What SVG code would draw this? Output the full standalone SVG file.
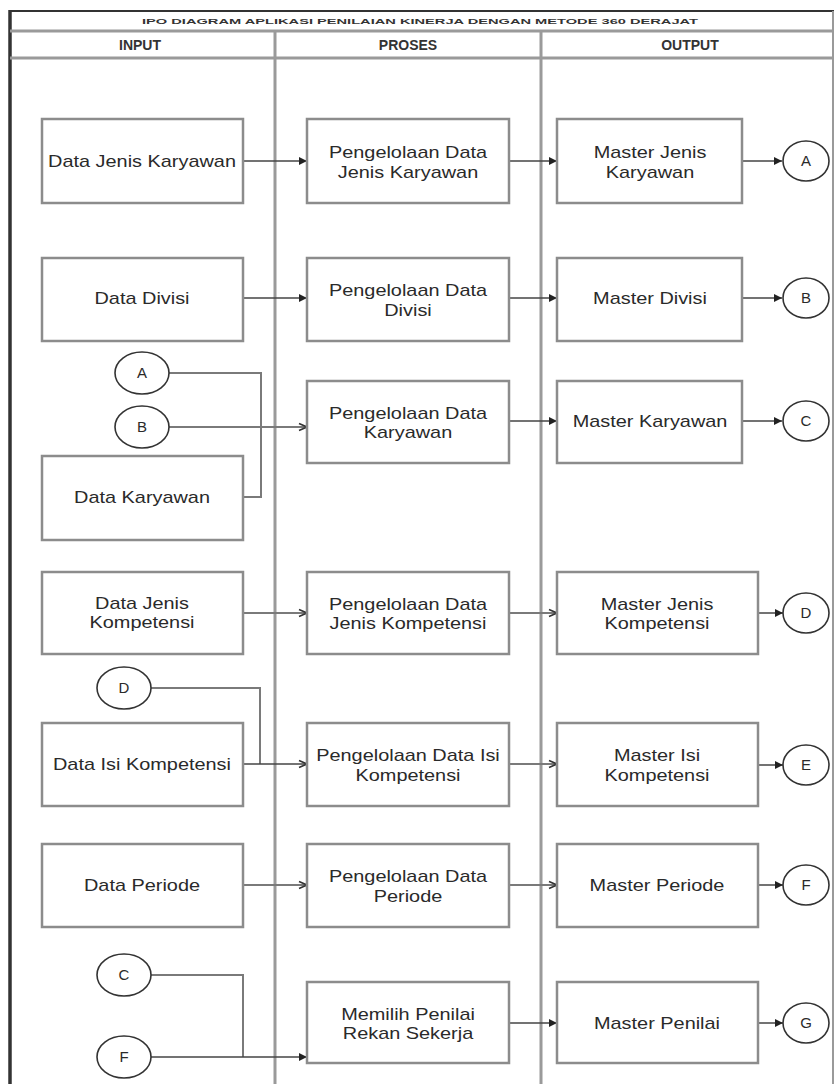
<svg xmlns="http://www.w3.org/2000/svg" width="837" height="1084" viewBox="0 0 837 1084">
  <style>
    .box { fill: #ffffff; stroke: #8c8c8c; stroke-width: 2.5; }
    .term { fill: #ffffff; stroke: #333333; stroke-width: 1.6; }
    .lbl { font-family: "Liberation Sans", Arial, sans-serif; font-size: 17px; fill: #2a2a2a; text-anchor: middle; }
    .tl { font-family: "Liberation Sans", Arial, sans-serif; font-size: 15px; fill: #2a2a2a; text-anchor: middle; }
    .hdr { font-family: "Liberation Sans", Arial, sans-serif; font-size: 14px; font-weight: bold; fill: #333333; text-anchor: middle; }
    .ttl { font-family: "Liberation Sans", Arial, sans-serif; font-size: 8px; font-weight: bold; fill: #333333; text-anchor: middle; }
    .wire { fill: none; stroke: #444444; stroke-width: 1.5; }
    .wire2 { fill: none; stroke: #7a7a7a; stroke-width: 2; }
    .lane { stroke: #9a9a9a; stroke-width: 3; }
  </style>
  <defs>
    <marker id="ah" markerWidth="10" markerHeight="10" refX="9" refY="5" orient="auto" markerUnits="userSpaceOnUse">
      <path d="M1,1 L9,5 L1,9 Z" fill="#222222"/>
    </marker>
    <marker id="ao" markerWidth="10" markerHeight="10" refX="9" refY="5" orient="auto" markerUnits="userSpaceOnUse">
      <path d="M1,1.5 L9,5 L1,8.5" fill="none" stroke="#333333" stroke-width="1.6"/>
    </marker>
  </defs>

  <rect width="837" height="1084" fill="#ffffff"/>

  <!-- frame, title row, header row and swimlanes -->
  <g id="frame">
    <line x1="10" y1="11" x2="834" y2="11" stroke="#333333" stroke-width="2"/>
    <line x1="10" y1="10" x2="10" y2="1084" stroke="#333333" stroke-width="3.5"/>
    <line x1="833" y1="11" x2="833" y2="1084" stroke="#9a9a9a" stroke-width="2"/>
    <line x1="10" y1="31" x2="834" y2="31" class="lane"/>
    <line x1="10" y1="58" x2="834" y2="58" class="lane"/>
    <line x1="275" y1="31" x2="275" y2="1084" class="lane"/>
    <line x1="541" y1="31" x2="541" y2="1084" class="lane"/>
    <text class="ttl" x="420" y="24" textLength="556" lengthAdjust="spacingAndGlyphs">IPO DIAGRAM APLIKASI PENILAIAN KINERJA DENGAN METODE 360 DERAJAT</text>
    <text class="hdr" x="140" y="50">INPUT</text>
    <text class="hdr" x="408" y="50">PROSES</text>
    <text class="hdr" x="690" y="50">OUTPUT</text>
  </g>

  <!-- connectors -->
  <g id="connectors">
    <line class="wire" x1="243" y1="161" x2="307" y2="161" marker-end="url(#ah)"/>
    <line class="wire" x1="509" y1="161" x2="557" y2="161" marker-end="url(#ah)"/>
    <line class="wire" x1="742" y1="161" x2="782" y2="161" marker-end="url(#ah)"/>

    <line class="wire" x1="243" y1="298" x2="307" y2="298" marker-end="url(#ah)"/>
    <line class="wire" x1="509" y1="298" x2="557" y2="298" marker-end="url(#ah)"/>
    <line class="wire" x1="742" y1="298" x2="782" y2="298" marker-end="url(#ah)"/>

    <polyline class="wire2" points="169,373 261,373 261,497 243,497"/>
    <line class="wire2" x1="169" y1="427" x2="307" y2="427" marker-end="url(#ao)"/>
    <line class="wire" x1="509" y1="421" x2="557" y2="421" marker-end="url(#ah)"/>
    <line class="wire" x1="742" y1="421" x2="782" y2="421" marker-end="url(#ah)"/>

    <line class="wire2" x1="243" y1="613" x2="307" y2="613" marker-end="url(#ao)"/>
    <line class="wire2" x1="509" y1="613" x2="557" y2="613" marker-end="url(#ao)"/>
    <line class="wire" x1="758" y1="613" x2="783" y2="613" marker-end="url(#ah)"/>

    <polyline class="wire2" points="151,688 260,688 260,764"/>
    <line class="wire" x1="243" y1="764" x2="307" y2="764" marker-end="url(#ao)"/>
    <line class="wire2" x1="509" y1="764" x2="557" y2="764" marker-end="url(#ao)"/>
    <line class="wire" x1="758" y1="765" x2="783" y2="765" marker-end="url(#ah)"/>

    <line class="wire2" x1="243" y1="885" x2="307" y2="885" marker-end="url(#ao)"/>
    <line class="wire2" x1="509" y1="885" x2="557" y2="885" marker-end="url(#ao)"/>
    <line class="wire" x1="758" y1="885" x2="783" y2="885" marker-end="url(#ah)"/>

    <polyline class="wire2" points="151,975 243,975 243,1057"/>
    <line class="wire" x1="151" y1="1057" x2="307" y2="1057" marker-end="url(#ah)"/>
    <line class="wire" x1="509" y1="1023" x2="557" y2="1023" marker-end="url(#ah)"/>
    <line class="wire" x1="758" y1="1023" x2="783" y2="1023" marker-end="url(#ah)"/>
  </g>

  <!-- input column -->
  <g id="in-jenis-karyawan">
    <rect class="box" x="42" y="119" width="201" height="84"/>
    <text class="lbl" transform="translate(142 167) scale(1.17 1)">Data Jenis Karyawan</text>
  </g>
  <g id="in-divisi">
    <rect class="box" x="42" y="258" width="201" height="83"/>
    <text class="lbl" transform="translate(142 304) scale(1.17 1)">Data Divisi</text>
  </g>
  <g id="conn-a-in">
    <ellipse class="term" cx="142" cy="373" rx="27" ry="21"/>
    <text class="tl" x="142" y="378">A</text>
  </g>
  <g id="conn-b-in">
    <ellipse class="term" cx="142" cy="427" rx="27" ry="21"/>
    <text class="tl" x="142" y="432">B</text>
  </g>
  <g id="in-karyawan">
    <rect class="box" x="42" y="456" width="201" height="84"/>
    <text class="lbl" transform="translate(142 503) scale(1.17 1)">Data Karyawan</text>
  </g>
  <g id="in-jenis-kompetensi">
    <rect class="box" x="42" y="572" width="201" height="82"/>
    <text class="lbl" transform="translate(142 609) scale(1.17 1)">Data Jenis</text>
    <text class="lbl" transform="translate(142 628) scale(1.17 1)">Kompetensi</text>
  </g>
  <g id="conn-d-in">
    <ellipse class="term" cx="124" cy="688" rx="27" ry="21"/>
    <text class="tl" x="124" y="693">D</text>
  </g>
  <g id="in-isi-kompetensi">
    <rect class="box" x="42" y="723" width="201" height="83"/>
    <text class="lbl" transform="translate(142 770) scale(1.17 1)">Data Isi Kompetensi</text>
  </g>
  <g id="in-periode">
    <rect class="box" x="42" y="844" width="201" height="83"/>
    <text class="lbl" transform="translate(142 891) scale(1.17 1)">Data Periode</text>
  </g>
  <g id="conn-c-in">
    <ellipse class="term" cx="124" cy="975" rx="27" ry="21"/>
    <text class="tl" x="124" y="980">C</text>
  </g>
  <g id="conn-f-in">
    <ellipse class="term" cx="124" cy="1057" rx="27" ry="21"/>
    <text class="tl" x="124" y="1062">F</text>
  </g>

  <!-- process column -->
  <g id="p-jenis-karyawan">
    <rect class="box" x="307" y="119" width="202" height="84"/>
    <text class="lbl" transform="translate(408 158) scale(1.17 1)">Pengelolaan Data</text>
    <text class="lbl" transform="translate(408 178) scale(1.17 1)">Jenis Karyawan</text>
  </g>
  <g id="p-divisi">
    <rect class="box" x="307" y="258" width="202" height="83"/>
    <text class="lbl" transform="translate(408 296) scale(1.17 1)">Pengelolaan Data</text>
    <text class="lbl" transform="translate(408 316) scale(1.17 1)">Divisi</text>
  </g>
  <g id="p-karyawan">
    <rect class="box" x="307" y="381" width="202" height="82"/>
    <text class="lbl" transform="translate(408 419) scale(1.17 1)">Pengelolaan Data</text>
    <text class="lbl" transform="translate(408 438) scale(1.17 1)">Karyawan</text>
  </g>
  <g id="p-jenis-kompetensi">
    <rect class="box" x="307" y="572" width="202" height="82"/>
    <text class="lbl" transform="translate(408 610) scale(1.17 1)">Pengelolaan Data</text>
    <text class="lbl" transform="translate(408 629) scale(1.17 1)">Jenis Kompetensi</text>
  </g>
  <g id="p-isi-kompetensi">
    <rect class="box" x="307" y="723" width="202" height="83"/>
    <text class="lbl" transform="translate(408 761) scale(1.17 1)">Pengelolaan Data Isi</text>
    <text class="lbl" transform="translate(408 781) scale(1.17 1)">Kompetensi</text>
  </g>
  <g id="p-periode">
    <rect class="box" x="307" y="844" width="202" height="83"/>
    <text class="lbl" transform="translate(408 882) scale(1.17 1)">Pengelolaan Data</text>
    <text class="lbl" transform="translate(408 902) scale(1.17 1)">Periode</text>
  </g>
  <g id="p-penilai">
    <rect class="box" x="307" y="982" width="202" height="81"/>
    <text class="lbl" transform="translate(408 1020) scale(1.17 1)">Memilih Penilai</text>
    <text class="lbl" transform="translate(408 1039) scale(1.17 1)">Rekan Sekerja</text>
  </g>

  <!-- output column -->
  <g id="o-jenis-karyawan">
    <rect class="box" x="557" y="119" width="185" height="84"/>
    <text class="lbl" transform="translate(650 158) scale(1.17 1)">Master Jenis</text>
    <text class="lbl" transform="translate(650 178) scale(1.17 1)">Karyawan</text>
  </g>
  <g id="conn-a-out">
    <ellipse class="term" cx="806" cy="161" rx="23" ry="20"/>
    <text class="tl" x="806" y="166">A</text>
  </g>
  <g id="o-divisi">
    <rect class="box" x="557" y="258" width="185" height="83"/>
    <text class="lbl" transform="translate(650 304) scale(1.17 1)">Master Divisi</text>
  </g>
  <g id="conn-b-out">
    <ellipse class="term" cx="806" cy="298" rx="23" ry="20"/>
    <text class="tl" x="806" y="303">B</text>
  </g>
  <g id="o-karyawan">
    <rect class="box" x="557" y="381" width="185" height="82"/>
    <text class="lbl" transform="translate(650 427) scale(1.17 1)">Master Karyawan</text>
  </g>
  <g id="conn-c-out">
    <ellipse class="term" cx="806" cy="421" rx="23" ry="20"/>
    <text class="tl" x="806" y="426">C</text>
  </g>
  <g id="o-jenis-kompetensi">
    <rect class="box" x="557" y="572" width="201" height="82"/>
    <text class="lbl" transform="translate(657 610) scale(1.17 1)">Master Jenis</text>
    <text class="lbl" transform="translate(657 629) scale(1.17 1)">Kompetensi</text>
  </g>
  <g id="conn-d-out">
    <ellipse class="term" cx="806" cy="613" rx="23" ry="20"/>
    <text class="tl" x="806" y="618">D</text>
  </g>
  <g id="o-isi-kompetensi">
    <rect class="box" x="557" y="723" width="201" height="83"/>
    <text class="lbl" transform="translate(657 761) scale(1.17 1)">Master Isi</text>
    <text class="lbl" transform="translate(657 781) scale(1.17 1)">Kompetensi</text>
  </g>
  <g id="conn-e-out">
    <ellipse class="term" cx="806" cy="765" rx="23" ry="20"/>
    <text class="tl" x="806" y="770">E</text>
  </g>
  <g id="o-periode">
    <rect class="box" x="557" y="844" width="201" height="83"/>
    <text class="lbl" transform="translate(657 891) scale(1.17 1)">Master Periode</text>
  </g>
  <g id="conn-f-out">
    <ellipse class="term" cx="806" cy="885" rx="23" ry="20"/>
    <text class="tl" x="806" y="890">F</text>
  </g>
  <g id="o-penilai">
    <rect class="box" x="557" y="982" width="201" height="81"/>
    <text class="lbl" transform="translate(657 1029) scale(1.17 1)">Master Penilai</text>
  </g>
  <g id="conn-g-out">
    <ellipse class="term" cx="806" cy="1023" rx="23" ry="20"/>
    <text class="tl" x="806" y="1028">G</text>
  </g>
</svg>
